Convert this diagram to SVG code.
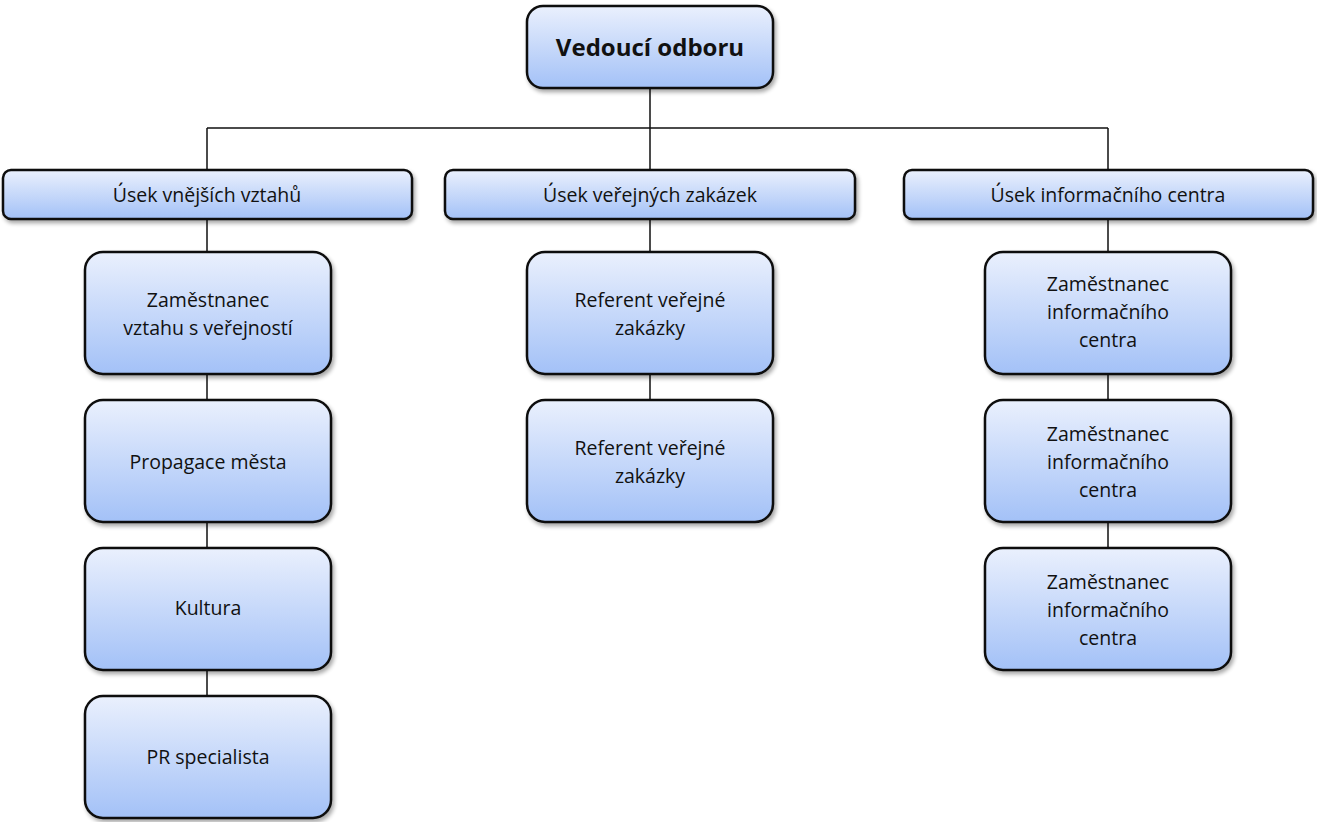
<svg xmlns="http://www.w3.org/2000/svg" width="1317" height="822" viewBox="0 0 1317 822">
  <defs>
    <linearGradient id="boxFill" x1="0" y1="0" x2="0" y2="1">
      <stop offset="0" stop-color="#eaf0fd"/>
      <stop offset="1" stop-color="#a3c1f7"/>
    </linearGradient>
    <filter id="shadow" x="-10%" y="-10%" width="125%" height="130%">
      <feGaussianBlur in="SourceAlpha" stdDeviation="2"/>
      <feOffset dx="2" dy="3" result="b"/>
      <feComponentTransfer><feFuncA type="linear" slope="0.35"/></feComponentTransfer>
      <feMerge><feMergeNode/><feMergeNode in="SourceGraphic"/></feMerge>
    </filter>
  </defs>
  <style>
    .box { fill: url(#boxFill); stroke: #111; stroke-width: 2.5; filter: url(#shadow); }
    .lbl { font-family: "Open Sans", "Noto Sans", "Liberation Sans", sans-serif; font-size: 19.5px; fill: #111; text-anchor: middle; }
    .title { font-size: 24px; font-weight: bold; }
    .conn { stroke: #111; stroke-width: 1.5; fill: none; }
  </style>
  <rect width="1317" height="822" fill="#ffffff"/>

  <g id="connectors">
    <path class="conn" d="M650 88 V128 M207 128 H1108 M207 128 V170 M650 128 V170 M1108 128 V170"/>
    <path class="conn" d="M207 219 V252 M207 374 V400 M207 522 V548 M207 670 V696"/>
    <path class="conn" d="M650 219 V252 M650 374 V400"/>
    <path class="conn" d="M1108 219 V252 M1108 374 V400 M1108 522 V548"/>
  </g>

  <g id="vedouci">
    <rect class="box" x="527" y="6" width="246" height="82" rx="16"/>
    <text class="lbl title" x="650" y="56">Vedoucí odboru</text>
  </g>

  <g id="usek-vnejsich">
    <rect class="box" x="3" y="170" width="409" height="49" rx="8"/>
    <text class="lbl" x="207" y="202">Úsek vnějších vztahů</text>
  </g>
  <g id="usek-zakazek">
    <rect class="box" x="445" y="170" width="410" height="49" rx="8"/>
    <text class="lbl" x="650" y="202">Úsek veřejných zakázek</text>
  </g>
  <g id="usek-info">
    <rect class="box" x="904" y="170" width="409" height="49" rx="8"/>
    <text class="lbl" x="1108" y="202">Úsek informačního centra</text>
  </g>

  <g id="zamestnanec-vztahu">
    <rect class="box" x="85" y="252" width="246" height="122" rx="18"/>
    <text class="lbl" x="208" y="307">Zaměstnanec</text>
    <text class="lbl" x="208" y="335">vztahu s veřejností</text>
  </g>
  <g id="propagace">
    <rect class="box" x="85" y="400" width="246" height="122" rx="18"/>
    <text class="lbl" x="208" y="469">Propagace města</text>
  </g>
  <g id="kultura">
    <rect class="box" x="85" y="548" width="246" height="122" rx="18"/>
    <text class="lbl" x="208" y="615">Kultura</text>
  </g>
  <g id="pr-specialista">
    <rect class="box" x="85" y="696" width="246" height="122" rx="18"/>
    <text class="lbl" x="208" y="764">PR specialista</text>
  </g>

  <g id="referent-1">
    <rect class="box" x="527" y="252" width="246" height="122" rx="18"/>
    <text class="lbl" x="650" y="307">Referent veřejné</text>
    <text class="lbl" x="650" y="335">zakázky</text>
  </g>
  <g id="referent-2">
    <rect class="box" x="527" y="400" width="246" height="122" rx="18"/>
    <text class="lbl" x="650" y="455">Referent veřejné</text>
    <text class="lbl" x="650" y="483">zakázky</text>
  </g>

  <g id="info-1">
    <rect class="box" x="985" y="252" width="246" height="122" rx="18"/>
    <text class="lbl" x="1108" y="291">Zaměstnanec</text>
    <text class="lbl" x="1108" y="319">informačního</text>
    <text class="lbl" x="1108" y="347">centra</text>
  </g>
  <g id="info-2">
    <rect class="box" x="985" y="400" width="246" height="122" rx="18"/>
    <text class="lbl" x="1108" y="441">Zaměstnanec</text>
    <text class="lbl" x="1108" y="469">informačního</text>
    <text class="lbl" x="1108" y="497">centra</text>
  </g>
  <g id="info-3">
    <rect class="box" x="985" y="548" width="246" height="122" rx="18"/>
    <text class="lbl" x="1108" y="589">Zaměstnanec</text>
    <text class="lbl" x="1108" y="617">informačního</text>
    <text class="lbl" x="1108" y="645">centra</text>
  </g>
</svg>
